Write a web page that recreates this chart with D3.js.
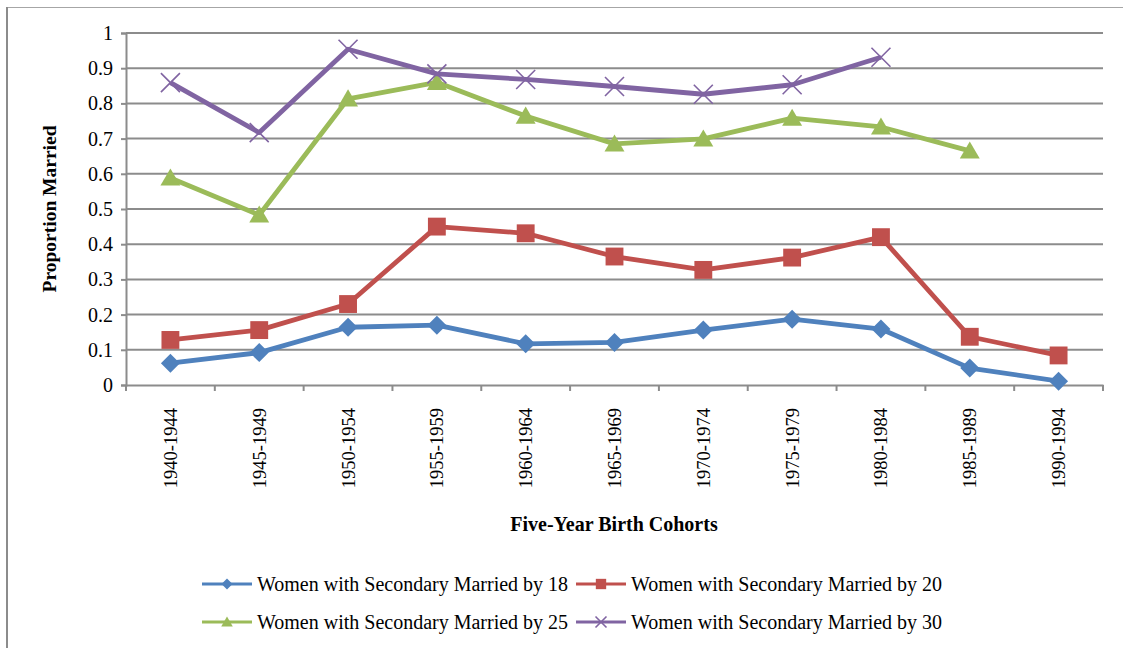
<!DOCTYPE html>
<html>
<head>
<meta charset="utf-8">
<style>
  body { margin: 0; background: #fff; }
  text { font-family: "Liberation Serif", "Times New Roman", serif; fill: #000; }
  .grid line { stroke: #8c8c8c; stroke-width: 2px; }
</style>
</head>
<body>
<svg width="1123" height="648"></svg>
<script src="https://cdn.jsdelivr.net/npm/d3@7"></script>
<script>
// data
var cohorts = ["1940-1944","1945-1949","1950-1954","1955-1959","1960-1964","1965-1969",
               "1970-1974","1975-1979","1980-1984","1985-1989","1990-1994"];
var by18 = [0.062, 0.092, 0.164, 0.170, 0.117, 0.121, 0.156, 0.187, 0.159, 0.048, 0.011];
var by20 = [0.128, 0.156, 0.230, 0.450, 0.431, 0.365, 0.327, 0.362, 0.420, 0.137, 0.084];
var by25 = [0.588, 0.483, 0.813, 0.860, 0.764, 0.685, 0.699, 0.758, 0.733, 0.665, null];
var by30 = [0.859, 0.717, 0.954, 0.884, 0.868, 0.848, 0.826, 0.853, 0.931, null, null];
var yTicks = [0, 0.1, 0.2, 0.3, 0.4, 0.5, 0.6, 0.7, 0.8, 0.9, 1];

var series = [
  {name: "Women with Secondary Married by 18", values: by18, color: "#4f81bd", marker: "diamond"},
  {name: "Women with Secondary Married by 20", values: by20, color: "#c0504d", marker: "square"},
  {name: "Women with Secondary Married by 25", values: by25, color: "#9bbb59", marker: "triangle"},
  {name: "Women with Secondary Married by 30", values: by30, color: "#8064a2", marker: "cross"}
];

var svg = d3.select("svg");
var plotL = 126, plotR = 1103, plotT = 33, plotB = 385;

// frame
svg.append("line").attr("x1", 7).attr("x2", 1123).attr("y1", 7.5).attr("y2", 7.5)
  .attr("stroke", "#a6a6a6").attr("stroke-width", 1);
svg.append("line").attr("x1", 7).attr("x2", 7).attr("y1", 7).attr("y2", 648)
  .attr("stroke", "#8c8c8c").attr("stroke-width", 2);

var x = d3.scaleBand().domain(cohorts).range([plotL, plotR]);
var y = d3.scaleLinear().domain([0, 1]).range([plotB, plotT]);

// gridlines
svg.append("g").attr("class", "grid")
  .selectAll("line").data(yTicks.slice(1)).enter().append("line")
  .attr("x1", plotL).attr("x2", plotR)
  .attr("y1", function(d) { return y(d); }).attr("y2", function(d) { return y(d); });

// y axis
var yAxis = svg.append("g").attr("transform", "translate(" + plotL + ",0)")
  .call(d3.axisLeft(y).tickValues(yTicks).tickSize(5).tickPadding(8)
    .tickFormat(function(d) { return String(+d.toFixed(1)); }));
yAxis.selectAll("text").style("font-size", "20px").attr("font-family", null);
yAxis.selectAll("line, path").attr("stroke", "#8c8c8c").attr("stroke-width", 2);

// x axis
var xAxis = svg.append("g").attr("transform", "translate(0," + plotB + ")")
  .call(d3.axisBottom(x).tickSize(0).tickPadding(0));
xAxis.select("path").attr("stroke", "#8c8c8c").attr("stroke-width", 2);
xAxis.selectAll(".tick text")
  .style("font-size", "18.5px").attr("font-family", null)
  .attr("transform", "rotate(-90)")
  .attr("text-anchor", "end").attr("dy", "0.35em")
  .attr("x", -23).attr("y", 0);
// tick marks between categories
svg.append("g").selectAll("line").data(d3.range(cohorts.length + 1)).enter().append("line")
  .attr("x1", function(i) { return plotL + i * x.step(); })
  .attr("x2", function(i) { return plotL + i * x.step(); })
  .attr("y1", plotB).attr("y2", plotB + 6)
  .attr("stroke", "#8c8c8c").attr("stroke-width", 2);

// axis titles
svg.append("text").attr("transform", "translate(56," + ((plotT + plotB) / 2) + ") rotate(-90)")
  .attr("text-anchor", "middle").style("font-size", "19.5px").style("font-weight", "bold")
  .text("Proportion Married");
svg.append("text").attr("x", 614).attr("y", 531).attr("text-anchor", "middle")
  .style("font-size", "20px").style("font-weight", "bold")
  .text("Five-Year Birth Cohorts");

function drawMarker(g, type, color, cx, cy, s) {
  var h = s / 2;
  if (type === "diamond") {
    g.append("path").attr("d", "M" + cx + "," + (cy - h) + "L" + (cx + h) + "," + cy +
      "L" + cx + "," + (cy + h) + "L" + (cx - h) + "," + cy + "Z").attr("fill", color);
  } else if (type === "square") {
    var q = s * 0.47;
    g.append("rect").attr("x", cx - q).attr("y", cy - q)
      .attr("width", q * 2).attr("height", q * 2).attr("fill", color);
  } else if (type === "triangle") {
    g.append("path").attr("d", "M" + cx + "," + (cy - h) + "L" + (cx + h * 1.05) + "," + (cy + h * 0.8) +
      "L" + (cx - h * 1.05) + "," + (cy + h * 0.8) + "Z").attr("fill", color);
  } else {
    var r = s * 0.5;
    g.append("path").attr("d", "M" + (cx - r) + "," + (cy - r) + "L" + (cx + r) + "," + (cy + r) +
      "M" + (cx - r) + "," + (cy + r) + "L" + (cx + r) + "," + (cy - r))
      .attr("stroke", color).attr("stroke-width", 1.6).attr("fill", "none");
  }
}

var line = d3.line()
  .defined(function(d) { return d.v !== null; })
  .x(function(d) { return x(d.c) + x.bandwidth() / 2; })
  .y(function(d) { return y(d.v); });

series.forEach(function(s) {
  var pts = cohorts.map(function(c, i) { return {c: c, v: s.values[i]}; });
  var g = svg.append("g");
  g.append("path").datum(pts).attr("d", line)
    .attr("fill", "none").attr("stroke", s.color).attr("stroke-width", 4.8)
    .attr("stroke-linejoin", "round");
  pts.filter(function(d) { return d.v !== null; }).forEach(function(d) {
    drawMarker(g, s.marker, s.color, x(d.c) + x.bandwidth() / 2, y(d.v), 19);
  });
});

// legend
var legendPos = [[202, 584], [576, 584], [202, 622], [576, 622]];
series.forEach(function(s, i) {
  var p = legendPos[i];
  var g = svg.append("g");
  g.append("line").attr("x1", p[0]).attr("x2", p[0] + 50).attr("y1", p[1]).attr("y2", p[1])
    .attr("stroke", s.color).attr("stroke-width", 3);
  drawMarker(g, s.marker, s.color, p[0] + 25, p[1], 11);
  g.append("text").attr("x", p[0] + 55).attr("y", p[1]).attr("dy", "0.35em")
    .style("font-size", "20px").text(s.name);
});
</script>
</body>
</html>
